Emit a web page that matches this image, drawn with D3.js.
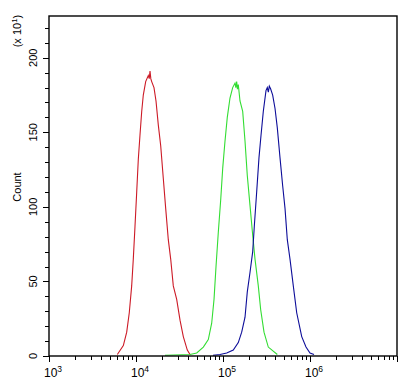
<!DOCTYPE html>
<html><head><meta charset="utf-8">
<script src="https://cdn.jsdelivr.net/npm/d3@7"></script>
<style>body{margin:0;background:#fff}svg{display:block}text{font-family:"Liberation Sans",Arial,sans-serif;fill:#000}</style>
</head><body><svg id="c" width="417" height="385"></svg>
<script>
// Data (fluorescence value, count x10)
const redX = [6100,7150,7820,8370,8920,9310,9740,10190,10630,11110,11630,12130,12920,13850,14200,14490,14800,15150,16100,16980,18040,19230,20600,21940,23510,25050,26830,29360,32060,34980,38880,41770];
const redY = [1,7,16,29,47,65,87,110,132,148,164,175,184,188,186,191,186,184,180,171,155,141,119,99,78,65,47,38,24,13,4,1];
const greenX = [21540,41770,49870,59400,67770,74130,78840,83120,88310,94150,99260,105400,112000,120300,129200,137400,140500,143600,146500,149900,156800,168400,179100,190200,204300,219500,233300,254500,271200,296100,331600,421000];
const greenY = [0.5,1,2,6,11,22,38,60,83,105,126,144,160,173,180,183,180,184,179,182,171,164,144,121,101,81,65,47,31,16,6,1];
const blueX = [76700,92400,110300,131300,149900,164000,179100,190200,204300,219500,229000,243800,259200,273500,290500,312000,323000,332000,340600,353200,372400,396300,421000,452000,485500,516200,548400,589000,642700,703300,803300,899500,1000000,1112000];
const blueY = [0.5,1,2,4,9,16,26,43,56,70,87,110,133,148,164,178,180,177,181,179,175,166,153,133,114,99,78,65,47,29,13,6,2,1];
const xTickExps = [3,4,5,6];
const yTicks = [0,50,100,150,200];
const yLabel = "Count";
const yUnit = "(x 10";

const svg = d3.select("#c");
const L=49, R=397, T=16, B=356;
const x = d3.scaleLog().domain([1e3,1e7]).range([L,R]);
const y = d3.scaleLinear().domain([0,228]).range([B,T]);

// curves
const series = [[redX,redY,"#cc1a26"],[greenX,greenY,"#33dd33"],[blueX,blueY,"#0d0d99"]];
const line = d3.line().x(d=>x(d[0])).y(d=>y(d[1]));
series.forEach(([xs,ys,col])=>{
  svg.append("path").datum(xs.map((v,i)=>[v,ys[i]]))
    .attr("d",line).attr("fill","none").attr("stroke",col).attr("stroke-width",1.1);
});

// frame
svg.append("rect").attr("x",L).attr("y",T).attr("width",R-L).attr("height",B-T)
  .attr("fill","none").attr("stroke","#000").attr("stroke-width",1.4);

// x ticks
const xMinor=[];
for(let e=3;e<7;e++) for(let m=2;m<10;m++) xMinor.push(m*Math.pow(10,e));
svg.append("g").selectAll("line").data(xMinor).join("line")
  .attr("x1",d=>Math.round(x(d))+0.5).attr("x2",d=>Math.round(x(d))+0.5)
  .attr("y1",B).attr("y2",B+4).attr("stroke","#000");
const xMajor=[3,4,5,6,7];
svg.append("g").selectAll("line").data(xMajor).join("line")
  .attr("x1",d=>Math.round(x(Math.pow(10,d)))+0.5).attr("x2",d=>Math.round(x(Math.pow(10,d)))+0.5)
  .attr("y1",B).attr("y2",B+6).attr("stroke","#000");
const xl = svg.append("g").selectAll("text").data(xTickExps).join("text")
  .attr("x",d=>x(Math.pow(10,d))+4).attr("y",377).attr("text-anchor","middle")
  .style("font-size","12px");
xl.append("tspan").text("10");
xl.append("tspan").attr("dy",-5).style("font-size","8.5px").text(d=>d);

// y ticks
const yMinor=d3.range(0,229,10);
svg.append("g").selectAll("line").data(yMinor).join("line")
  .attr("x1",L-4).attr("x2",L).attr("y1",d=>Math.round(y(d))+0.5).attr("y2",d=>Math.round(y(d))+0.5).attr("stroke","#000");
svg.append("g").selectAll("line").data(yTicks).join("line")
  .attr("x1",L-6).attr("x2",L).attr("y1",d=>Math.round(y(d))+0.5).attr("y2",d=>Math.round(y(d))+0.5).attr("stroke","#000");
svg.append("g").selectAll("text").data(yTicks).join("text")
  .attr("transform",d=>`translate(37,${y(d)}) rotate(-90)`).attr("text-anchor","middle")
  .style("font-size","11px").text(d=>d);

svg.append("text").attr("transform","translate(21,187) rotate(-90)").attr("text-anchor","middle")
  .style("font-size","11px").text(yLabel);
const u = svg.append("text").attr("transform","translate(21,31) rotate(-90)").attr("text-anchor","middle")
  .style("font-size","11px");
u.append("tspan").text(yUnit);
u.append("tspan").attr("dy",-4).style("font-size","8px").text("1");
u.append("tspan").attr("dy",4).text(")");
</script></body></html>
